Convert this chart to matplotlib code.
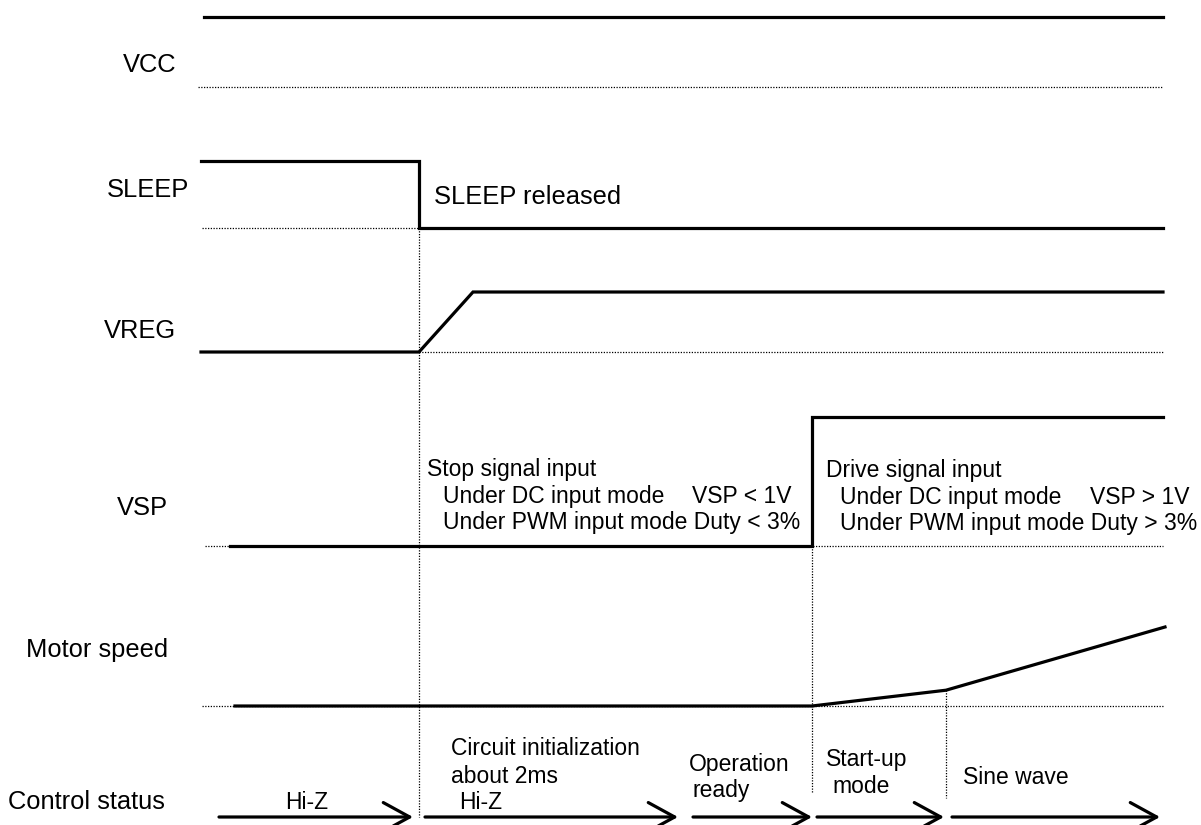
import matplotlib
matplotlib.use('Agg')
import matplotlib.pyplot as plt

plt.rcParams['font.family'] = ['Liberation Sans', 'DejaVu Sans']

# signal waveforms: time (px along the diagram) and level (0 = low, 1 = high)
vcc_t = [204, 1163]
vcc_level = [1, 1]

sleep_t = [201, 419, 419, 1163]
sleep_level = [1, 1, 0, 0]

vreg_t = [201, 419, 473, 1163]
vreg_level = [0, 0, 1, 1]

vsp_t = [230, 812, 812, 1163]
vsp_level = [0, 0, 1, 1]

motor_t = [235, 812, 946, 1165]
motor_level = [0, 0, 0.2, 1.0]

# dotted reference (low level) lines: start, end
vcc_ref = [198, 1163]
sleep_ref = [202, 419]
vreg_ref = [419, 1163]
vsp_ref = [205, 1163]
motor_ref = [202, 1163]

# control status phases
status_start = [219, 425, 693, 817, 952]
status_end = [413, 678, 812, 944, 1160]

# event markers (vertical dotted lines): time, top, bottom
event_t = [419, 812, 946]
event_top = [228, 546, 690]
event_bottom = [817, 793, 798]

# lane layout: baseline y (px) and height of a level 1 (px)
lanes = {
    'VCC': (87, 70),
    'SLEEP': (228, 67),
    'VREG': (352, 60),
    'VSP': (546, 129),
    'Motor': (706, 79),
}
status_y = 817

LW = 2.3
BIG = 18.4
SMALL = 16.5
dot_style = dict(color='black', lw=0.9, linestyle=(0, (1, 1.2)))

fig = plt.figure(figsize=(12.01, 8.25), dpi=100)
ax = fig.add_axes([0, 0, 1, 1])
ax.set_xlim(0, 1201)
ax.set_ylim(825, 0)
ax.axis('off')


def draw_signal(name, t, level, ref):
    base, h = lanes[name]
    ax.plot(ref, [base, base], **dot_style)
    ax.plot(t, [base - h * v for v in level], color='black', lw=LW,
            solid_joinstyle='miter')


draw_signal('VCC', vcc_t, vcc_level, vcc_ref)
draw_signal('SLEEP', sleep_t, sleep_level, sleep_ref)
draw_signal('VREG', vreg_t, vreg_level, vreg_ref)
draw_signal('VSP', vsp_t, vsp_level, vsp_ref)
draw_signal('Motor', motor_t, motor_level, motor_ref)

# event lines
for t, top, bot in zip(event_t, event_top, event_bottom):
    ax.plot([t, t], [top, bot], **dot_style)

# control status arrows
for s, e in zip(status_start, status_end):
    ax.annotate('', xy=(e, status_y), xytext=(s, status_y),
                arrowprops=dict(arrowstyle='->,head_length=0.95,head_width=0.52',
                                lw=LW, color='black', mutation_scale=20,
                                shrinkA=0, shrinkB=0))

# signal names
ax.text(123, 72, 'VCC', fontsize=BIG, va='baseline')
ax.text(107, 197, 'SLEEP', fontsize=BIG, va='baseline')
ax.text(104, 338, 'VREG', fontsize=BIG, va='baseline')
ax.text(117, 515, 'VSP', fontsize=BIG, va='baseline')
ax.text(26, 657, 'Motor speed', fontsize=BIG, va='baseline')
ax.text(8, 809, 'Control status', fontsize=BIG, va='baseline')

# annotations
ax.text(434, 204, 'SLEEP released', fontsize=BIG, va='baseline')

ax.text(427, 476, 'Stop signal input', fontsize=SMALL, va='baseline')
ax.text(443, 503, 'Under DC input mode', fontsize=SMALL, va='baseline')
ax.text(692, 503, 'VSP < 1V', fontsize=SMALL, va='baseline')
ax.text(443, 529, 'Under PWM input mode Duty < 3%', fontsize=SMALL, va='baseline')

ax.text(826, 477, 'Drive signal input', fontsize=SMALL, va='baseline')
ax.text(840, 504, 'Under DC input mode', fontsize=SMALL, va='baseline')
ax.text(1090, 504, 'VSP > 1V', fontsize=SMALL, va='baseline')
ax.text(840, 530, 'Under PWM input mode Duty > 3%', fontsize=SMALL, va='baseline')

ax.text(285, 809, 'Hi-Z', fontsize=SMALL, va='baseline')
ax.text(451, 755, 'Circuit initialization', fontsize=SMALL, va='baseline')
ax.text(451, 783, 'about 2ms', fontsize=SMALL, va='baseline')
ax.text(459, 809, 'Hi-Z', fontsize=SMALL, va='baseline')
ax.text(689, 771, 'Operation', fontsize=SMALL, va='baseline')
ax.text(693, 797, 'ready', fontsize=SMALL, va='baseline')
ax.text(826, 766, 'Start-up', fontsize=SMALL, va='baseline')
ax.text(832, 793, 'mode', fontsize=SMALL, va='baseline')
ax.text(963, 784, 'Sine wave', fontsize=SMALL, va='baseline')

fig.savefig('out.png', dpi=100)
